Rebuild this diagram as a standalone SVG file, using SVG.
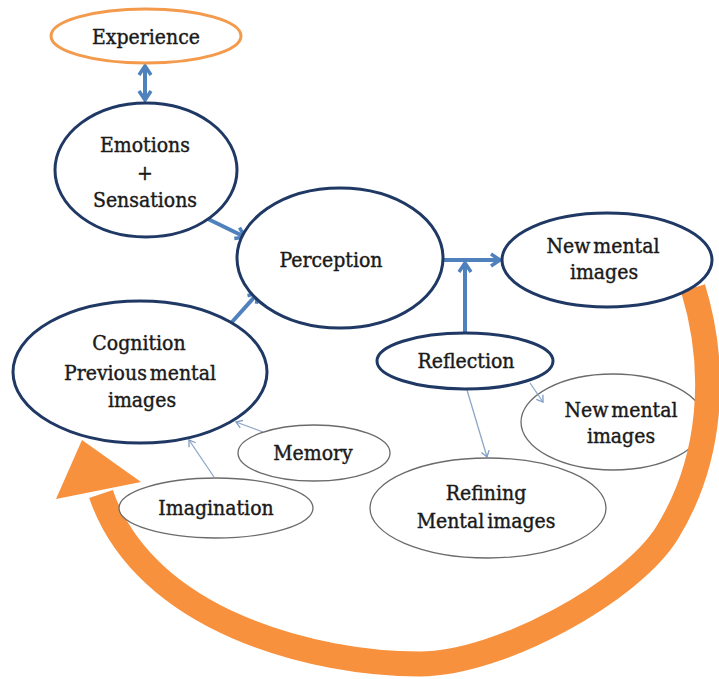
<svg xmlns="http://www.w3.org/2000/svg" width="719" height="679" viewBox="0 0 719 679">
  <defs>
    <marker id="chev" markerUnits="userSpaceOnUse" viewBox="-2 -2 16 16" markerWidth="16" markerHeight="16" refX="10" refY="6" orient="auto-start-reverse">
      <path d="M1,0 L10,6 L1,12" fill="none" stroke="#4F81BD" stroke-width="3.5" stroke-linejoin="miter"/>
    </marker>
    <marker id="chev-thin" markerUnits="userSpaceOnUse" viewBox="-1 -1 10 10" markerWidth="10" markerHeight="10" refX="7" refY="4" orient="auto">
      <path d="M1,0 L7,4 L1,8" fill="none" stroke="#7F9CC4" stroke-width="1.3"/>
    </marker>
  </defs>
  <style>
    text { font-family: 'DejaVu Serif Condensed', 'DejaVu Serif', serif; font-stretch: condensed; font-size: 21px; fill: #1a1a1a; stroke: #1a1a1a; stroke-width: 0.4; text-anchor: middle; word-spacing: -3px; }
    .main { fill: #ffffff; stroke: #1F3864; stroke-width: 3; }
    .minor { fill: #ffffff; stroke: #6b6b6b; stroke-width: 1.3; }
    .origin { fill: #ffffff; stroke: #F39A4C; stroke-width: 3; }
    .flow { fill: none; stroke: #4F81BD; stroke-width: 4; marker-end: url(#chev); }
    .thin { fill: none; stroke: #8EA6C8; stroke-width: 1.3; marker-end: url(#chev-thin); }
    .loop { fill: none; stroke: #F7913D; stroke-width: 25; }
  </style>
  <rect width="719" height="679" fill="#ffffff"/>

  <!-- secondary outcome, partly covered by the big loop arrow -->
  <g id="node-new-images-2">
    <ellipse class="minor" cx="613" cy="422" rx="92" ry="48"/>
    <text x="621" y="417">New mental</text>
    <text x="621" y="443">images</text>
  </g>

  <!-- big return loop from new images back to cognition -->
  <g id="loop-arrow">
    <path class="loop" d="M 693 288 C 718 370, 712 460, 667 533 C 631 591, 500 664, 420 664 C 315 664, 145 622, 101 494"/>
    <polygon points="82,440 141,482 56,499" fill="#F7913D"/>
  </g>

  <g id="connectors">
    <line class="flow" x1="145" y1="66" x2="145" y2="100" marker-start="url(#chev)"/>
    <line class="flow" x1="208" y1="219" x2="245" y2="237"/>
    <line class="flow" x1="232" y1="322" x2="258" y2="293"/>
    <line class="flow" x1="442" y1="260" x2="500" y2="260"/>
    <line class="flow" x1="465" y1="333" x2="465" y2="263"/>
    <line class="thin" x1="263" y1="432" x2="236" y2="422"/>
    <line class="thin" x1="214" y1="477" x2="189" y2="440"/>
    <line class="thin" x1="467" y1="390" x2="487" y2="457"/>
    <line class="thin" x1="530" y1="383" x2="543" y2="402"/>
  </g>

  <g id="node-experience">
    <ellipse class="origin" cx="146" cy="36" rx="95" ry="27"/>
    <text x="146" y="44">Experience</text>
  </g>

  <g id="node-emotions">
    <ellipse class="main" cx="146" cy="170" rx="91" ry="67"/>
    <text x="145" y="152">Emotions</text>
    <text x="145" y="180">+</text>
    <text x="145" y="207">Sensations</text>
  </g>

  <g id="node-perception">
    <ellipse class="main" cx="340" cy="258" rx="103" ry="70"/>
    <text x="331" y="267">Perception</text>
  </g>

  <g id="node-new-images">
    <ellipse class="main" cx="607" cy="260" rx="105" ry="47"/>
    <text x="603" y="253">New mental</text>
    <text x="604" y="279">images</text>
  </g>

  <g id="node-reflection">
    <ellipse class="main" cx="465" cy="361" rx="88" ry="28"/>
    <text x="466" y="368">Reflection</text>
  </g>

  <g id="node-cognition">
    <ellipse class="main" cx="140" cy="372" rx="127" ry="71"/>
    <text x="139" y="350">Cognition</text>
    <text x="140" y="380">Previous mental</text>
    <text x="142" y="407">images</text>
  </g>

  <g id="node-memory">
    <ellipse class="minor" cx="314" cy="453" rx="76" ry="28"/>
    <text x="313" y="460">Memory</text>
  </g>

  <g id="node-imagination">
    <ellipse class="minor" cx="216" cy="508" rx="97" ry="30"/>
    <text x="216" y="515">Imagination</text>
  </g>

  <g id="node-refining">
    <ellipse class="minor" cx="488" cy="508" rx="118" ry="50"/>
    <text x="486" y="500">Refining</text>
    <text x="486" y="528">Mental images</text>
  </g>
</svg>
